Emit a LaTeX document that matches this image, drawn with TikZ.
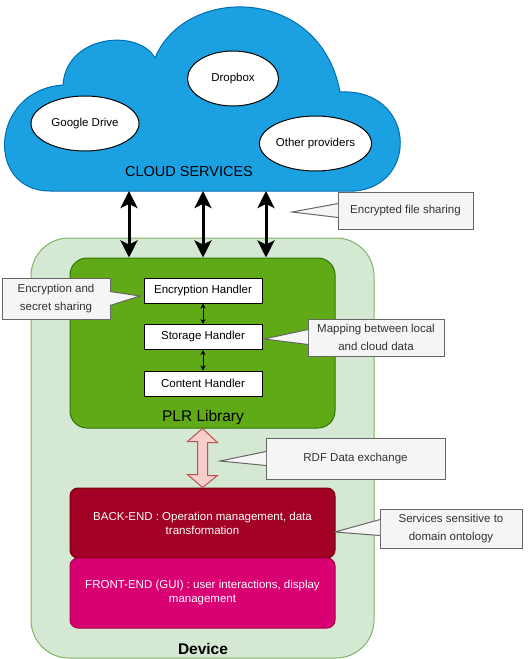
\documentclass[tikz,border=0pt]{standalone}
\usepackage{fontspec}
\setmainfont{Liberation Sans}
\usepackage{xcolor}
\usetikzlibrary{arrows.meta,shapes.geometric,calc}
\definecolor{cloudblue}{HTML}{1BA1E2}
\definecolor{cloudline}{HTML}{006EAF}
\definecolor{devgreen}{HTML}{D5E8D4}
\definecolor{devline}{HTML}{82B366}
\definecolor{plrgreen}{HTML}{60A917}
\definecolor{plrline}{HTML}{2D7600}
\definecolor{backred}{HTML}{A20025}
\definecolor{backline}{HTML}{6F0000}
\definecolor{frontpink}{HTML}{D80073}
\definecolor{frontline}{HTML}{A50040}
\definecolor{notegray}{HTML}{F5F5F5}
\definecolor{noteline}{HTML}{666666}
\definecolor{notetext}{HTML}{333333}
\definecolor{rdffill}{HTML}{F8CECC}
\definecolor{rdfline}{HTML}{B85450}

\begin{document}
\begin{tikzpicture}[x=1pt, y=-1pt, line width=1pt,
  provider/.style={ellipse, draw=black, fill=white, minimum height=55pt, inner sep=0pt, font=\fontsize{11.5}{14}\selectfont},
  handler/.style={rectangle, draw=black, fill=white, minimum width=118pt, minimum height=25pt, inner sep=0pt, font=\fontsize{11.5}{14}\selectfont},
  layer/.style={rectangle, rounded corners=8pt, minimum width=265pt, minimum height=70pt, inner sep=0pt, text=white, align=center, font=\fontsize{11.5}{14}\selectfont},
  note/.style={rectangle, draw=noteline, fill=notegray, inner sep=0pt, text=notetext, align=center, font=\fontsize{11.5}{18}\selectfont},
  pointer/.style={draw=noteline, fill=notegray},
  bigarrow/.style={{Stealth[length=17pt,width=17pt,inset=4pt]}-{Stealth[length=17pt,width=17pt,inset=4pt]}, line width=3pt},
  smallarrow/.style={{Stealth[length=5pt,width=5pt]}-{Stealth[length=5pt,width=5pt]}, line width=0.8pt}
]
\useasboundingbox (0,0) rectangle (532,659);

\node[rectangle, rounded corners=38pt, draw=devline, fill=devgreen, minimum width=343pt, minimum height=420pt] (device) at (202.5,448) {};
\node[font=\fontsize{15.5}{18}\selectfont\bfseries] (devlabel) at (203,649) {Device};

\node[rectangle, rounded corners=17pt, draw=plrline, fill=plrgreen, minimum width=265pt, minimum height=170pt] (plr) at (202.5,343) {};
\node[font=\fontsize{15.5}{18}\selectfont] (plrlabel) at (203,417) {PLR Library};

\node[handler] (enc) at (203,290.5) {Encryption Handler};
\node[handler] (stor) at (203,337) {Storage Handler};
\node[handler] (cont) at (203,383.5) {Content Handler};
\draw[smallarrow] (enc) -- (stor);
\draw[smallarrow] (stor) -- (cont);

\node[layer, draw=backline, fill=backred] (back) at (202.5,523) {BACK-END : Operation management, data\\transformation};
\node[layer, draw=frontline, fill=frontpink] (front) at (202.5,593) {FRONT-END (GUI) : user interactions, display\\management};

\draw[draw=rdfline, fill=rdffill] (plr.south) -- ++(15,14) -- ++(-10,0) -- ++(0,33) -- ++(10,0) -- (back.north)
  -- ++(-15,-13) -- ++(10,0) -- ++(0,-33) -- ++(-10,0) -- cycle;

\filldraw[draw=cloudline, fill=cloudblue] (63,85)
  .. controls (66,35) and (138,28) .. (155,58)
  .. controls (185,-15) and (320,-15) .. (340,92)
  .. controls (415,88) and (420,185) .. (355,191)
  -- (50,191)
  .. controls (-15,191) and (-10,90) .. (63,85) -- cycle;
\node[provider, minimum width=91pt] (dropbox) at (233,78.5) {Dropbox};
\node[provider, minimum width=108pt] (gdrive) at (85,123.5) {Google Drive};
\node[provider, minimum width=97pt] (other) at (315.5,143.5) {Other providers};
\node[font=\fontsize{14.5}{16}\selectfont] (cloudlbl) at (189,172) {CLOUD SERVICES};

\coordinate (cb1) at (129,191);
\coordinate (cb2) at (203,191);
\coordinate (cb3) at (266,191);
\draw[bigarrow] (cb1) -- (cb1 |- plr.north);
\draw[bigarrow] (cb2) -- (cb2 |- plr.north);
\draw[bigarrow] (cb3) -- (cb3 |- plr.north);

\node[note, minimum width=135pt, minimum height=37pt] (sharenote) at (405.5,210.5) {Encrypted file sharing};
\coordinate (sharetip) at (292,212);
\filldraw[pointer] ($(sharenote.west)+(0.6,-7)$) -- (sharetip) -- ($(sharenote.west)+(0.6,7)$);

\node[note, minimum width=108pt, minimum height=41pt] (secretnote) at (56,298.5) {Encryption and\\secret sharing};
\coordinate (secrettip) at (140,296);
\filldraw[pointer] ($(secretnote.east)+(-0.6,-7)$) -- (secrettip) -- ($(secretnote.east)+(-0.6,7)$);

\node[note, minimum width=136pt, minimum height=37pt] (mapnote) at (376,337.5) {Mapping between local\\and cloud data};
\coordinate (maptip) at (264,339);
\filldraw[pointer] ($(mapnote.west)+(0.6,-8)$) -- (maptip) -- ($(mapnote.west)+(0.6,7)$);

\node[note, minimum width=179pt, minimum height=41pt] (rdfnote) at (355.5,458.5) {RDF Data exchange};
\coordinate (rdftip) at (220,461);
\filldraw[pointer] ($(rdfnote.west)+(0.6,-7)$) -- (rdftip) -- ($(rdfnote.west)+(0.6,7)$);

\node[note, minimum width=142pt, minimum height=39pt] (ontonote) at (451,528.5) {Services sensitive to\\domain ontology};
\coordinate (ontotip) at (335,532);
\filldraw[pointer] ($(ontonote.west)+(0.6,-9)$) -- (ontotip) -- ($(ontonote.west)+(0.6,7)$);
\end{tikzpicture}
\end{document}
